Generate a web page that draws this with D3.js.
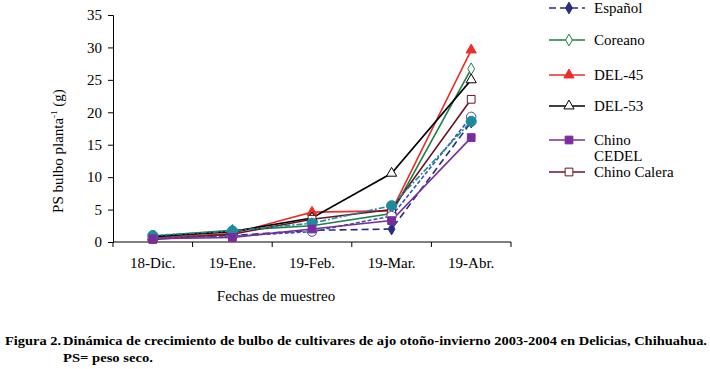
<!DOCTYPE html>
<html>
<head>
<meta charset="utf-8">
<script src="https://cdn.jsdelivr.net/npm/d3@7"></script>
<style>
  body { margin: 0; background: #fff; }
</style>
</head>
<body>
<svg width="710" height="369" font-family="Liberation Serif, DejaVu Serif, serif"></svg>
<script>
// sampling dates
var fechas = ["18-Dic.", "19-Ene.", "19-Feb.", "19-Mar.", "19-Abr."];
var yTicks = [0, 5, 10, 15, 20, 25, 30, 35];

// PS bulbo per cultivar (g)
var espanol     = [0.7, 1.0, 1.8, 2.0, 18.5];
var coreano     = [0.9, 1.8, 2.5, 4.4, 26.7];
var del45       = [0.6, 1.3, 4.6, 4.8, 29.6];
var del53       = [0.8, 1.6, 3.7, 10.6, 25.0];
var chinoCedel  = [0.5, 0.7, 2.0, 3.3, 16.1];
var chinoCalera = [0.4, 1.2, 3.5, 5.0, 22.0];
var serieCirc   = [0.6, 0.9, 1.6, 4.0, 19.3];
var serieTeal   = [1.0, 1.7, 2.9, 5.6, 18.6];

var series = [
  {name: "Español", vals: espanol, color: "#2b2d7c", dash: "7,4", sym: d3.symbolDiamond, fill: true, size: 40},
  {name: "Coreano", vals: coreano, color: "#1d8046", dash: null, sym: d3.symbolDiamond, fill: false, size: 40},
  {name: "DEL-45", vals: del45, color: "#ec2d2a", dash: null, sym: d3.symbolTriangle, fill: true, size: 45},
  {name: "DEL-53", vals: del53, color: "#000000", dash: null, sym: d3.symbolTriangle, fill: false, size: 45},
  {name: "Chino Calera", vals: chinoCalera, color: "#6b1424", dash: null, sym: d3.symbolSquare, fill: false, size: 60},
  {name: "circ", vals: serieCirc, color: "#3b55b0", dash: "4,2", sym: d3.symbolCircle, fill: false, size: 70},
  {name: "teal", vals: serieTeal, color: "#1f8a9c", dash: "6,2,2,2", sym: d3.symbolCircle, fill: true, size: 80},
  {name: "Chino CEDEL", vals: chinoCedel, color: "#7b2c9c", dash: null, sym: d3.symbolSquare, fill: true, size: 60}
];

var svg = d3.select("svg");

var x = d3.scaleBand().domain(fechas).range([113, 511]);
var y = d3.scaleLinear().domain([0, 35]).range([242, 15]);

// y axis
var yAxis = svg.append("g")
  .attr("transform", "translate(113,0)")
  .call(d3.axisLeft(y).tickValues(yTicks).tickSize(5).tickPadding(6));
yAxis.attr("font-family", null).attr("font-size", null);
yAxis.select(".domain").attr("stroke", "#000");
yAxis.selectAll("line").attr("stroke", "#000");
yAxis.selectAll("text").attr("font-size", 15).attr("fill", "#000");

// x axis
var xAxis = svg.append("g")
  .attr("transform", "translate(0,242)")
  .call(d3.axisBottom(x).tickSize(0).tickPadding(15));
xAxis.attr("font-family", null).attr("font-size", null);
xAxis.select(".domain").attr("stroke", "#000").attr("d", "M113,0H511");
xAxis.selectAll("text").attr("font-size", 15).attr("fill", "#000");
svg.append("g").selectAll("line")
  .data(fechas.map(function(f){ return x(f); }).concat([x.range()[1]]))
  .enter().append("line")
  .attr("x1", function(d){ return d; }).attr("x2", function(d){ return d; })
  .attr("y1", 242).attr("y2", 247).attr("stroke", "#000");

// axis titles
svg.append("text")
  .attr("x", 276).attr("y", 301)
  .attr("text-anchor", "middle").attr("font-size", 15)
  .text("Fechas de muestreo");

var yt = svg.append("text")
  .attr("transform", "translate(63,151) rotate(-90)")
  .attr("text-anchor", "middle").attr("font-size", 15);
yt.append("tspan").text("PS bulbo planta");
yt.append("tspan").attr("font-size", 9).attr("dy", -6).text("-1");
yt.append("tspan").attr("dy", 6).text(" (g)");

// lines and markers
var cx = function(i){ return x(fechas[i]) + x.bandwidth() / 2; };
var line = d3.line().x(function(d, i){ return cx(i); }).y(function(d){ return y(d); });

series.forEach(function(s) {
  svg.append("path")
    .datum(s.vals)
    .attr("d", line)
    .attr("fill", "none")
    .attr("stroke", s.color)
    .attr("stroke-width", 1.6)
    .attr("stroke-dasharray", s.dash);
});
series.forEach(function(s) {
  svg.append("g").selectAll("path")
    .data(s.vals)
    .enter().append("path")
    .attr("d", d3.symbol().type(s.sym).size(s.size))
    .attr("transform", function(d, i){ return "translate(" + cx(i) + "," + y(d) + ")"; })
    .attr("fill", s.fill ? s.color : "#fff")
    .attr("stroke", s.color)
    .attr("stroke-width", 1);
});

// legend
var legend = [
  {s: series[0], y: 8, label: ["Español"]},
  {s: series[1], y: 40, label: ["Coreano"]},
  {s: series[2], y: 75, label: ["DEL-45"]},
  {s: series[3], y: 106, label: ["DEL-53"]},
  {s: series[7], y: 140, label: ["Chino", "CEDEL"]},
  {s: series[4], y: 172, label: ["Chino Calera"]}
];
legend.forEach(function(l) {
  var g = svg.append("g");
  g.append("line")
    .attr("x1", 549).attr("x2", 585).attr("y1", l.y).attr("y2", l.y)
    .attr("stroke", l.s.color).attr("stroke-width", 1.6)
    .attr("stroke-dasharray", l.s.dash);
  g.append("path")
    .attr("d", d3.symbol().type(l.s.sym).size(l.s.size))
    .attr("transform", "translate(569," + l.y + ")")
    .attr("fill", l.s.fill ? l.s.color : "#fff")
    .attr("stroke", l.s.color);
  l.label.forEach(function(t, k) {
    g.append("text")
      .attr("x", 594).attr("y", l.y + 5 + k * 16)
      .attr("font-size", 15)
      .text(t);
  });
});

// caption
var cap = svg.append("g").attr("font-weight", "bold").attr("font-size", 13);
cap.append("text").attr("x", 5).attr("y", 345).attr("textLength", 56).attr("lengthAdjust", "spacingAndGlyphs").text("Figura 2.");
cap.append("text").attr("x", 63).attr("y", 345).attr("textLength", 644).attr("lengthAdjust", "spacingAndGlyphs")
  .text("Dinámica de crecimiento de bulbo de cultivares de ajo otoño-invierno 2003-2004 en Delicias, Chihuahua.");
cap.append("text").attr("x", 63).attr("y", 362).attr("textLength", 90).attr("lengthAdjust", "spacingAndGlyphs").text("PS= peso seco.");
</script>
</body>
</html>
